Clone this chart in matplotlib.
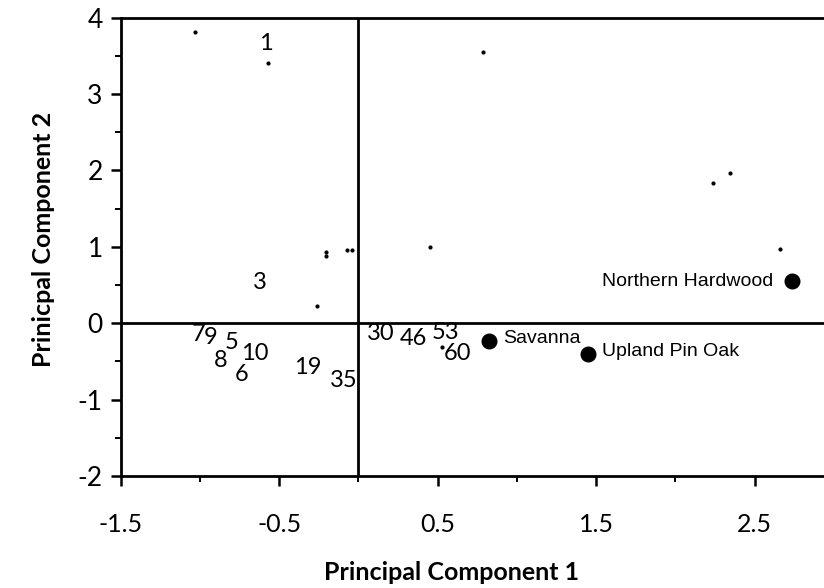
import matplotlib
matplotlib.use("Agg")
import matplotlib.pyplot as plt
from matplotlib.ticker import FixedLocator

# stand numbers (label positions in PC1/PC2 space)
site_labels = ['1', '3', '7', '9', '5', '10', '8', '6', '19', '35', '30', '46', '53', '60']
site_pc1 = [-0.583, -0.621, -1.012, -0.930, -0.798, -0.653, -0.867, -0.735, -0.318, -0.091,
            0.142, 0.344, 0.552, 0.622]
site_pc2 = [3.666, 0.538, -0.143, -0.182, -0.247, -0.391, -0.483, -0.666, -0.575, -0.745,
            -0.130, -0.195, -0.116, -0.391]

# community types (large dots)
group_names = ['Savanna', 'Upland Pin Oak', 'Northern Hardwood']
group_pc1 = [0.824, 1.448, 2.735]
group_pc2 = [-0.234, -0.404, 0.551]

# small unlabelled points
dot_pc1 = [-1.030, -0.571, 0.786, -0.205, -0.205, -0.072, -0.041, -0.261, 0.451,
           2.238, 2.345, 2.661, 0.527]
dot_pc2 = [3.810, 3.404, 3.548, 0.931, 0.878, 0.957, 0.957, 0.224, 0.996,
           1.834, 1.965, 0.970, -0.313]

x_major = [-1.5, -0.5, 0.5, 1.5, 2.5]
x_minor = [-1.0, 0.0, 1.0, 2.0]
y_major = [-2, -1, 0, 1, 2, 3, 4]
y_minor = [-1.5, -0.5, 0.5, 1.5, 2.5, 3.5]

fig = plt.figure(figsize=(8.24, 5.88), dpi=100)
ax = fig.add_axes([0.1465, 0.1905, 0.8535, 0.7797])

ax.axhline(0, color='black', lw=2.0, zorder=1)
ax.axvline(0, color='black', lw=2.0, zorder=1)

ax.plot(dot_pc1, dot_pc2, 'o', color='black', ms=2.0, ls='none')

for lab, x, y in zip(site_labels, site_pc1, site_pc2):
    ax.text(x, y, lab, ha='center', va='center', fontsize=17, family='Lato')

ax.plot(group_pc1, group_pc2, 'o', color='black', ms=10.5, ls='none')
for name, x, y in zip(group_names, group_pc1, group_pc2):
    if name == 'Northern Hardwood':
        ax.text(x - 0.12, y, name, ha='right', va='center', fontsize=14,
                family='Liberation Sans')
    else:
        ax.text(x + 0.09, y + 0.03, name, ha='left', va='center', fontsize=14,
                family='Liberation Sans')

ax.set_xlim(-1.5, 2.937)
ax.set_ylim(-2, 4)

ax.xaxis.set_major_locator(FixedLocator(x_major))
ax.xaxis.set_minor_locator(FixedLocator(x_minor))
ax.yaxis.set_major_locator(FixedLocator(y_major))
ax.yaxis.set_minor_locator(FixedLocator(y_minor))
ax.set_xticklabels([str(v) for v in x_major], family='Lato', fontsize=18)
ax.set_yticklabels([str(v) for v in y_major], family='Lato', fontsize=19)
ax.tick_params(axis='both', which='major', direction='out', length=7, width=1.8)
ax.tick_params(axis='both', which='minor', direction='out', length=4, width=1.4)
ax.tick_params(axis='x', which='major', pad=20)
ax.tick_params(axis='y', which='major', pad=6)

for side in ['left', 'bottom', 'top']:
    ax.spines[side].set_linewidth(2.0)
ax.spines['right'].set_visible(False)

ax.set_xlabel('Principal Component 1', family='Lato', fontweight='bold',
              fontsize=18, labelpad=18)
ax.set_ylabel('Prinicpal Component 2', family='Lato', fontweight='bold',
              fontsize=18, labelpad=16)
# the original frame ran past the right edge, so the titles sit off-centre
ax.xaxis.label.set_x(0.47)
ax.yaxis.label.set_y(0.515)

fig.savefig('out.png', dpi=100)
